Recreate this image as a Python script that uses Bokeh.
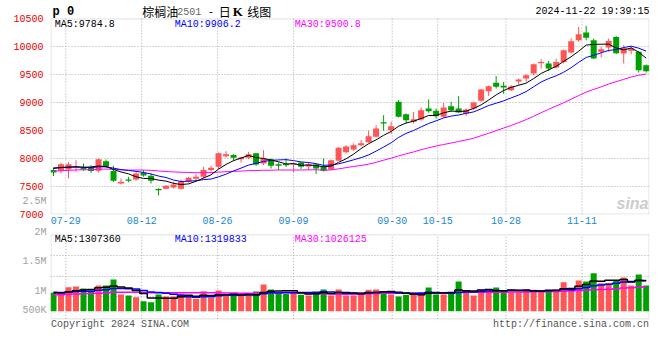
from bokeh.plotting import figure
from bokeh.layouts import column
from bokeh.models import (Label, FixedTicker, CustomJSTickFormatter, Range1d, LinearAxis,
                          BoxAnnotation)
from bokeh.embed import file_html
from bokeh.resources import INLINE

# ---------------- data ----------------
dates = ["07-25", "07-26", "07-29", "07-30", "07-31",
         "08-01", "08-02", "08-05", "08-06", "08-07", "08-08", "08-09", "08-12", "08-13", "08-14",
         "08-15", "08-16", "08-19", "08-20", "08-21", "08-22", "08-23", "08-26", "08-27", "08-28",
         "08-29", "08-30",
         "09-02", "09-03", "09-04", "09-05", "09-06", "09-09", "09-10", "09-11", "09-12", "09-13",
         "09-18", "09-19", "09-20", "09-23", "09-24", "09-25", "09-26", "09-27", "09-30",
         "10-08", "10-09", "10-10", "10-11", "10-14", "10-15", "10-16", "10-17", "10-18", "10-21",
         "10-22", "10-23", "10-24", "10-25", "10-28", "10-29", "10-30", "10-31",
         "11-01", "11-04", "11-05", "11-06", "11-07", "11-08", "11-11", "11-12", "11-13", "11-14",
         "11-15", "11-18", "11-19", "11-20", "11-21", "11-22"]

opens = [7792, 7780, 7804, 7840, 7833, 7839, 7780, 7952, 7774, 7553,
         7625, 7625, 7744, 7690, 7452, 7458, 7482, 7458, 7583, 7637,
         7673, 7792, 7851, 8042, 8060, 7988, 8012, 8095, 7911, 7988,
         7899, 7899, 7893, 7929, 7857, 7893, 7851, 7804, 7958, 8110,
         8161, 8238, 8292, 8387, 8649, 8506, 9012, 8792, 8655, 8696,
         8893, 8851, 8744, 8935, 8893, 8804, 8893, 9030, 9202, 9351,
         9298, 9220, 9375, 9429, 9518, 9703, 9697, 9625, 9726, 9893,
         10113, 10250, 10113, 9905, 9982, 10172, 9875, 9923, 9905, 9667]
highs = [7839, 7923, 7935, 7970, 7911, 7881, 8000, 7982, 7869, 7643,
         7673, 7756, 7792, 7732, 7470, 7524, 7583, 7625, 7673, 7720,
         7851, 7869, 8107, 8131, 8077, 8030, 8119, 8101, 8149, 8000,
         7929, 8000, 7929, 7935, 7929, 7911, 8000, 7982, 8202, 8238,
         8268, 8327, 8494, 8595, 8774, 8655, 9042, 8804, 8833, 8911,
         9054, 8893, 8994, 9012, 9113, 8893, 9012, 9244, 9304, 9476,
         9369, 9310, 9429, 9506, 9697, 9774, 9744, 9786, 9946, 10143,
         10351, 10369, 10143, 9994, 10143, 10190, 10024, 10012, 9917, 9679]
lows = [7685, 7732, 7643, 7762, 7780, 7744, 7750, 7839, 7583, 7536,
        7577, 7601, 7673, 7554, 7339, 7446, 7464, 7446, 7565, 7613,
        7643, 7762, 7810, 8012, 7958, 7929, 7988, 7869, 7881, 7821,
        7792, 7845, 7750, 7810, 7792, 7726, 7768, 7792, 7952, 8089,
        8137, 8220, 8280, 8375, 8494, 8435, 8732, 8625, 8625, 8673,
        8815, 8714, 8726, 8833, 8815, 8756, 8863, 9012, 9119, 9250,
        9155, 9203, 9310, 9369, 9488, 9607, 9560, 9607, 9697, 9875,
        10083, 10113, 9774, 9804, 9905, 9863, 9697, 9863, 9536, 9536]
closes = [7750, 7899, 7899, 7863, 7804, 7774, 7988, 7851, 7601, 7583,
          7601, 7732, 7696, 7601, 7435, 7512, 7536, 7589, 7655, 7673,
          7792, 7833, 8095, 8077, 8012, 8018, 8077, 7893, 8000, 7869,
          7869, 7881, 7917, 7851, 7899, 7821, 7774, 7970, 8190, 8215,
          8238, 8274, 8399, 8536, 8625, 8577, 8744, 8685, 8702, 8863,
          8845, 8756, 8911, 8863, 8821, 8875, 9000, 9232, 9292, 9280,
          9268, 9286, 9411, 9488, 9685, 9726, 9607, 9726, 9935, 10095,
          10220, 10155, 9786, 9952, 10101, 9881, 9976, 9964, 9578, 9560]
volumes = [784000, 699000, 1026000, 1055000, 969000, 884000, 1097000, 1097000, 1354000, 713000,
           670000, 599000, 428000, 386000, 713000, 628000, 628000, 742000, 670000, 528000,
           841000, 571000, 884000, 670000, 670000, 670000, 670000, 841000, 1140000, 927000,
           742000, 742000, 841000, 699000, 670000, 798000, 927000, 670000, 927000, 670000,
           670000, 813000, 912000, 927000, 855000, 713000, 628000, 699000, 742000, 742000,
           1012000, 713000, 713000, 798000, 1268000, 884000, 670000, 912000, 884000, 1012000,
           884000, 813000, 813000, 912000, 912000, 841000, 912000, 884000, 1240000, 983000,
           1311000, 1268000, 1624000, 1197000, 1197000, 1311000, 1439000, 1097000, 1567000, 1097000]

# sessions before the first visible day (estimated from where the MA lines start)
prior_close = [7700, 7680, 7650, 7720, 7760, 7700, 7740, 7790, 7810, 7760,
               7720, 7690, 7740, 7780, 7810, 7760, 7740, 7780, 7800, 7760,
               7820, 7850, 7830, 7860, 7855, 7820, 7860, 7830, 7845]
prior_volume = [620000, 680000, 590000, 710000, 650000, 600000, 690000, 640000, 720000, 610000,
                660000, 700000, 580000, 640000, 690000, 620000, 670000, 650000, 700000, 640000,
                830000, 860000, 790000, 850000, 820000, 760000, 810000, 790000, 780000]

tick_dates = ["07-29", "08-12", "08-26", "09-09", "09-30", "10-15", "10-28", "11-11"]
price_ticks = [7000, 7500, 8000, 8500, 9000, 9500, 10000, 10500]
price_grid = [7500, 8000, 8500, 9000, 9500, 10000]
vol_labels = ["2M", "1.5M", "1M", "500K"]
price_legend = ["MA5:9784.8", "MA10:9906.2", "MA30:9500.8"]
vol_legend = ["MA5:1307360", "MA10:1319833", "MA30:1026125"]

# ---------------- style / geometry (pixels) ----------------
MONO = "Liberation Mono"
CJK = "Noto Sans CJK SC"
RED_C = "#ff5555"
GREEN_C = "#00a000"
GRID_C = "#aaaaaa"
BORDER_C = "#999999"
LABEL_GREY = "#a0a0a0"
W = 660
FRAME_L, FRAME_R = 50, 649
H1, H2 = 226, 107
P2_TOP = H1
# price panel: frame covers canvas rows 0..214, chart box starts at row 18
PANEL1_TOP, PANEL1_BOT = 18, 214
UPP = 3502 / (PANEL1_BOT - PANEL1_TOP)      # price units per pixel
Y1_BOTTOM_VAL = 6999
# volume panel: frame covers canvas rows 226..333, chart box rows 234.3..318.3
PANEL2_TOP, PANEL2_BOT = 234.3, 318.3
VOL_PX = 42700                               # volume per pixel
ZERO_ROW = 310.7                             # row of zero volume


def ma(prior, series, n):
    full = list(prior) + list(series)
    off = len(prior)
    return [sum(full[off + i - n + 1: off + i + 1]) / n for i in range(len(series))]


def price_at(row):
    return Y1_BOTTOM_VAL + (PANEL1_BOT - row) * UPP


def vol_at(row):
    return (ZERO_ROW - row) * VOL_PX


idx = list(range(len(dates)))
colors = [RED_C if c >= o else GREEN_C for o, c in zip(opens, closes)]
min_body = 20
body_top, body_bot = [], []
for o, c in zip(opens, closes):
    t, b = max(o, c), min(o, c)
    if t - b < min_body:
        m = (t + b) / 2
        t, b = m + min_body / 2, m - min_body / 2
    body_top.append(t)
    body_bot.append(b)

ma5 = ma(prior_close, closes, 5)
ma10 = ma(prior_close, closes, 10)
ma30 = ma(prior_close, closes, 30)
vma5 = ma(prior_volume, volumes, 5)
vma10 = ma(prior_volume, volumes, 10)
vma30 = ma(prior_volume, volumes, 30)

tick_pos = [1.64 + (dates.index(d) - 2) * 1.0117 for d in tick_dates]
x_range = Range1d(-0.4, 79.44)
XPX = (x_range.end - x_range.start) / (FRAME_R - FRAME_L)   # index units per pixel


def txt(fig, x, y, text, color="#000000", size=10, align="left", bold=False,
        font=MONO, italic=False):
    style = "bold" if bold else "normal"
    if italic:
        style = "bold italic" if bold else "italic"
    fig.add_layout(Label(x=x, y=y, x_units="canvas", y_units="canvas", text=text,
                         text_color=color, text_font_size=f"{size}px",
                         text_align=align, text_baseline="middle",
                         text_font=font, text_font_style=style))


def style_grid(g):
    g.grid_line_color = GRID_C
    g.grid_line_dash = "1 2"
    g.grid_line_width = 1


def style_axis(ax, color):
    ax.major_label_text_color = color
    ax.major_label_text_font = MONO
    ax.major_label_text_font_size = "10px"
    ax.major_tick_in = 0
    ax.major_tick_out = 0
    ax.minor_tick_line_color = None


# ---------------- price panel (with header rows on top) ----------------
y1_range = Range1d(Y1_BOTTOM_VAL, price_at(0))
p1 = figure(width=W, height=H1, output_backend="svg", toolbar_location=None,
            x_range=x_range, y_range=y1_range,
            min_border_left=FRAME_L, min_border_right=W - FRAME_R,
            min_border_top=0, min_border_bottom=H1 - PANEL1_BOT)
p1.background_fill_color = "white"
p1.border_fill_color = "white"
p1.outline_line_color = None

ax_in = p1.yaxis[0]                    # inner axis: grey "2.5M"
ax_in.ticker = FixedTicker(ticks=[price_at(200.7)])
ax_in.formatter = CustomJSTickFormatter(code="return '2.5M';")
style_axis(ax_in, LABEL_GREY)
ax_in.axis_line_color = None
ax_in.major_label_standoff = 4

ax_price = LinearAxis(ticker=FixedTicker(ticks=price_ticks))   # outer axis: red prices
style_axis(ax_price, "#ee0000")
ax_price.axis_line_color = None
ax_price.major_label_standoff = -24
p1.add_layout(ax_price, "left")

p1.xaxis.ticker = FixedTicker(ticks=tick_pos)
p1.xaxis.formatter = CustomJSTickFormatter(
    args=dict(pos=tick_pos, labs=tick_dates),
    code="const i = pos.findIndex(p => Math.abs(p - tick) < 1e-6); return i >= 0 ? labs[i] : '';")
style_axis(p1.xaxis[0], "#1a88d0")
p1.xaxis.axis_line_color = None
p1.xaxis.major_label_standoff = 2

p1.xgrid.visible = False
p1.ygrid.ticker = FixedTicker(ticks=price_grid)
style_grid(p1.ygrid[0])
p1.segment(x0=tick_pos, x1=tick_pos, y0=[price_at(PANEL1_BOT)] * len(tick_pos),
           y1=[price_at(PANEL1_TOP)] * len(tick_pos), line_color=GRID_C, line_dash="1 2",
           line_width=1)
p1.add_layout(BoxAnnotation(left=x_range.start + 0.5 * XPX, right=x_range.end - 0.5 * XPX,
                            bottom=price_at(PANEL1_BOT - 0.5), top=price_at(PANEL1_TOP + 0.5),
                            fill_alpha=0, line_color=BORDER_C, line_width=1))

p1.segment(x0=idx, y0=lows, x1=idx, y1=highs, color=colors, line_width=1)
p1.vbar(x=idx, width=0.8, top=body_top, bottom=body_bot, fill_color=colors, line_color=None)
p1.line(idx, ma30, color="#ff00ff", line_width=1)
p1.line(idx, ma10, color="#0000ff", line_width=1)
p1.line(idx, ma5, color="#000000", line_width=1)

# header row
txt(p1, 52, 11, "p 0", size=12, bold=True)
txt(p1, 141.7, 10.5, "棕榈油", size=12, font=CJK)
txt(p1, 176.7, 11, "2501", color="#666666")
txt(p1, 207.5, 11, "-")
txt(p1, 218.3, 10.5, "日", size=12, font=CJK)
txt(p1, 232.3, 10.5, "K", size=13, bold=True, font="Liberation Serif")
txt(p1, 246.7, 10.5, "线图", size=12, font=CJK)
txt(p1, 649, 11, "2024-11-22 19:39:15", align="right")
for s, xr, c in zip(price_legend, (54.3, 174.3, 294.3), ("#000000", "#0000ff", "#ff00ff")):
    txt(p1, xr, 23.5, s, color=c)
txt(p1, 648, 203, "sina", color="#cccccc", size=16, align="right",
    bold=True, italic=True, font="Liberation Sans")

# ---------------- volume panel (with footer rows below) ----------------
v_range = Range1d(vol_at(P2_TOP + H2), vol_at(P2_TOP))
p2 = figure(width=W, height=H2, output_backend="svg", toolbar_location=None,
            x_range=x_range, y_range=v_range,
            min_border_left=FRAME_L, min_border_right=W - FRAME_R,
            min_border_top=0, min_border_bottom=0)
p2.background_fill_color = "white"
p2.border_fill_color = "white"
p2.outline_line_color = None
p2.xaxis.visible = False

vol_label_pos = [vol_at(r) for r in (230.7, 261, 290.7, 310)]
p2.yaxis.ticker = FixedTicker(ticks=vol_label_pos)
p2.yaxis.formatter = CustomJSTickFormatter(
    args=dict(pos=vol_label_pos, labs=vol_labels),
    code="const i = pos.findIndex(p => Math.abs(p - tick) < 1e-3); return i >= 0 ? labs[i] : '';")
style_axis(p2.yaxis[0], LABEL_GREY)
p2.yaxis.axis_line_color = None
p2.yaxis.major_label_standoff = 4

p2.xgrid.visible = False
p2.ygrid.ticker = FixedTicker(ticks=[vol_at(r) for r in (255.3, 275.8, 296.3)])
style_grid(p2.ygrid[0])
p2.segment(x0=tick_pos, x1=tick_pos, y0=[vol_at(PANEL2_BOT)] * len(tick_pos),
           y1=[vol_at(PANEL2_TOP)] * len(tick_pos), line_color=GRID_C, line_dash="1 2",
           line_width=1)
p2.add_layout(BoxAnnotation(left=x_range.start + 0.5 * XPX, right=x_range.end - 0.5 * XPX,
                            bottom=vol_at(PANEL2_BOT), top=vol_at(PANEL2_TOP),
                            fill_alpha=0, line_color=BORDER_C, line_width=1))

p2.vbar(x=idx, width=0.8, top=volumes, bottom=0, fill_color=colors, line_color=None)
p2.step(idx, vma30, mode="center", color="#ff00ff", line_width=1.5)
p2.step(idx, vma10, mode="center", color="#0000ff", line_width=1.5)
p2.step(idx, vma5, mode="center", color="#000000", line_width=1.5)

for s, xr, c in zip(vol_legend, (54.3, 174.3, 294.3), ("#000000", "#0000ff", "#ff00ff")):
    txt(p2, xr, 238.7 - P2_TOP, s, color=c)
txt(p2, 50.5, 324 - P2_TOP, "Copyright 2024 SINA.COM", color="#555555")
txt(p2, 648.5, 324 - P2_TOP, "http://finance.sina.com.cn", color="#555555", align="right")

layout = column(p1, p2)
open("out.html", "w").write(file_html(layout, INLINE))
